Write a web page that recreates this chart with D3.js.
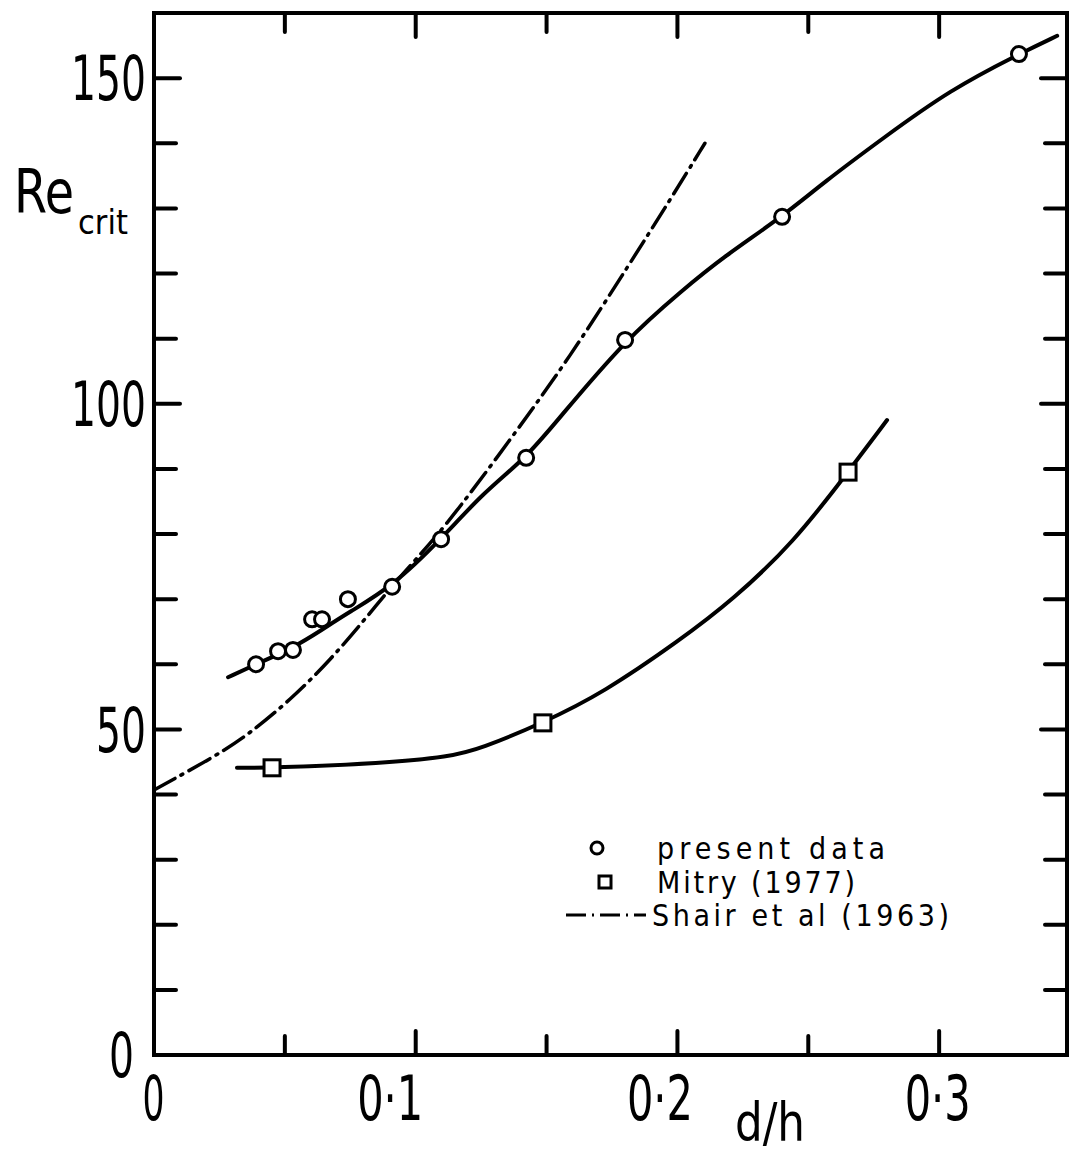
<!DOCTYPE html>
<html>
<head>
<meta charset="utf-8">
<script src="https://cdn.jsdelivr.net/npm/d3@7/dist/d3.min.js"></script>
<style>
  html, body { margin: 0; padding: 0; background: #fff; }
  text { font-family: "DejaVu Sans Condensed", "DejaVu Sans", sans-serif; fill: #000; }
</style>
</head>
<body>
<div id="chart"></div>
<script>
// present data (circles)
const presentX = [0.0390, 0.0474, 0.0531, 0.0604, 0.0642, 0.0741, 0.0910, 0.1097, 0.1422, 0.1800, 0.2400, 0.3305];
const presentY = [60.0, 62.0, 62.2, 66.9, 66.9, 70.0, 71.9, 79.2, 91.7, 109.8, 128.7, 153.7];

// faired curve through present data
const presentCurveX = [0.0283, 0.039, 0.0531, 0.0642, 0.0741, 0.091, 0.1097, 0.1257, 0.1422, 0.154, 0.180, 0.2021, 0.2174, 0.240, 0.2556, 0.2786, 0.3042, 0.3305, 0.3451];
const presentCurveY = [58.0, 60.0, 62.5, 65.3, 67.9, 71.9, 79.2, 86.3, 91.7, 97.4, 109.8, 117.5, 122.5, 128.7, 133.9, 140.8, 148.2, 153.7, 156.5];

// Mitry (1977) squares and curve
const mitryX = [0.0451, 0.1486, 0.2652];
const mitryY = [44.1, 51.0, 89.5];
const mitryCurveX = [0.0317, 0.0451, 0.0875, 0.1131, 0.1246, 0.1486, 0.1716, 0.201, 0.2212, 0.2442, 0.2652, 0.2801];
const mitryCurveY = [44.1, 44.1, 44.8, 45.8, 47.0, 51.0, 55.6, 63.7, 69.9, 78.6, 89.5, 97.5];

// Shair et al (1963) dash-dot curve
const shairX = [0.0, 0.024, 0.0367, 0.052, 0.0673, 0.0814, 0.0951, 0.1104, 0.136, 0.159, 0.1819, 0.1972, 0.2105];
const shairY = [40.7, 46.0, 49.4, 54.5, 60.6, 67.3, 74.0, 80.6, 94.4, 107.2, 121.6, 131.3, 140.0];

const yLabelTicks = [0, 50, 100, 150];
const xLabelTicks = [0, 0.1, 0.2, 0.3];
const legendLabels = ["present  data", "Mitry  (1977)", "Shair  et  al  (1963)"];

const width = 1071, height = 1153;
const x = d3.scaleLinear().domain([0, 0.35]).range([154, 1070]);
const y = d3.scaleLinear().domain([0, 160]).range([1055, 13]);

const svg = d3.select("#chart").append("svg")
    .attr("width", width)
    .attr("height", height);

svg.append("rect").attr("width", width).attr("height", height).attr("fill", "#fff");

// Frame
const x0 = x(0), x1 = 1067, y0 = y(0), y1 = y(160);
svg.append("rect")
    .attr("x", x0).attr("y", y1)
    .attr("width", x1 - x0).attr("height", y0 - y1)
    .attr("fill", "none").attr("stroke", "#000").attr("stroke-width", 4);

// Inward ticks, all four sides
const yTicks = d3.range(10, 160, 10);
const xTicks = d3.range(0.05, 0.33, 0.05);

const ticks = svg.append("g").attr("stroke", "#000").attr("stroke-width", 4).attr("stroke-linecap", "round");
yTicks.forEach(v => {
    const len = v % 50 === 0 ? 26 : 22;
    ticks.append("line").attr("x1", x0).attr("x2", x0 + len).attr("y1", y(v)).attr("y2", y(v));
    ticks.append("line").attr("x1", x1).attr("x2", x1 - len).attr("y1", y(v)).attr("y2", y(v));
});
xTicks.forEach(v => {
    const major = Math.abs(v * 10 - Math.round(v * 10)) < 1e-6;
    const len = major ? 24 : 19;
    ticks.append("line").attr("x1", x(v)).attr("x2", x(v)).attr("y1", y0).attr("y2", y0 - len);
    ticks.append("line").attr("x1", x(v)).attr("x2", x(v)).attr("y1", y1).attr("y2", y1 + len);
});

// Tick labels
const yAxis = d3.axisLeft(y).tickValues(yLabelTicks).tickSize(0).tickPadding(0);
const gy = svg.append("g").attr("transform", `translate(${x0 - 8},0)`).call(yAxis);
gy.select(".domain").remove();
gy.selectAll("text")
    .attr("font-size", 62)
    .attr("font-family", null)
    .attr("dy", "0.35em")
    .attr("dx", d => d === 0 ? -12 : 0)
    .attr("textLength", d => String(d).length * 25)
    .attr("lengthAdjust", "spacingAndGlyphs");

const xAxis = d3.axisBottom(x).tickValues(xLabelTicks).tickSize(0).tickPadding(0)
    .tickFormat(d => d === 0 ? "0" : d3.format(".1f")(d).replace(".", "·"));
const gx = svg.append("g").attr("transform", `translate(0,${y0 + 18})`).call(xAxis);
gx.select(".domain").remove();
const xShift = { 0: -1, 0.1: -26, 0.2: -18, 0.3: -2 };
gx.selectAll("text")
    .attr("font-size", 62)
    .attr("font-family", null)
    .attr("dy", "0.75em")
    .attr("dx", d => xShift[d])
    .attr("textLength", d => d === 0 ? 22 : 66)
    .attr("lengthAdjust", "spacingAndGlyphs");

// Axis titles
const reLabel = svg.append("text").attr("x", 14).attr("y", 213).attr("font-size", 60);
reLabel.append("tspan").text("Re").attr("textLength", 60).attr("lengthAdjust", "spacingAndGlyphs");
reLabel.append("tspan").text("crit").attr("font-size", 34).attr("dx", 4).attr("dy", 21);

svg.append("text").attr("x", 735).attr("y", 1141).attr("font-size", 54)
    .attr("textLength", 70).attr("lengthAdjust", "spacingAndGlyphs").text("d/h");

// Curves
const line = d3.line().x(d => x(d[0])).y(d => y(d[1])).curve(d3.curveBasis);
const curves = svg.append("g").attr("fill", "none").attr("stroke", "#000").attr("stroke-linecap", "round");

curves.append("path").datum(d3.zip(shairX, shairY))
    .attr("d", line).attr("stroke-width", 3.5).attr("stroke-dasharray", "24,7,2,7");
curves.append("path").datum(d3.zip(presentCurveX, presentCurveY))
    .attr("d", line).attr("stroke-width", 4);
curves.append("path").datum(d3.zip(mitryCurveX, mitryCurveY))
    .attr("d", line).attr("stroke-width", 4);

// Markers
svg.append("g").selectAll("circle").data(d3.zip(presentX, presentY)).join("circle")
    .attr("cx", d => x(d[0])).attr("cy", d => y(d[1])).attr("r", 7.5)
    .attr("fill", "#fff").attr("stroke", "#000").attr("stroke-width", 3);
svg.append("g").selectAll("rect").data(d3.zip(mitryX, mitryY)).join("rect")
    .attr("x", d => x(d[0]) - 8).attr("y", d => y(d[1]) - 8).attr("width", 16).attr("height", 16)
    .attr("fill", "#fff").attr("stroke", "#000").attr("stroke-width", 3);

// Legend
const legend = svg.append("g");
const rowY = [848, 882, 915];
const legendWidths = [228, 198, 297];
const legendX = [657, 657, 652];
legend.append("circle").attr("cx", 597).attr("cy", rowY[0]).attr("r", 6)
    .attr("fill", "#fff").attr("stroke", "#000").attr("stroke-width", 3);
legend.append("rect").attr("x", 599).attr("y", rowY[1] - 6).attr("width", 12).attr("height", 12)
    .attr("fill", "#fff").attr("stroke", "#000").attr("stroke-width", 3);
legend.append("line").attr("x1", 566).attr("x2", 646).attr("y1", rowY[2]).attr("y2", rowY[2])
    .attr("stroke", "#000").attr("stroke-width", 3).attr("stroke-dasharray", "20,6,2,6");
legendLabels.forEach((t, i) => {
    legend.append("text").attr("x", legendX[i]).attr("y", rowY[i] + 11).attr("font-size", 30)
        .attr("textLength", legendWidths[i]).attr("lengthAdjust", "spacing").text(t);
});
</script>
</body>
</html>
